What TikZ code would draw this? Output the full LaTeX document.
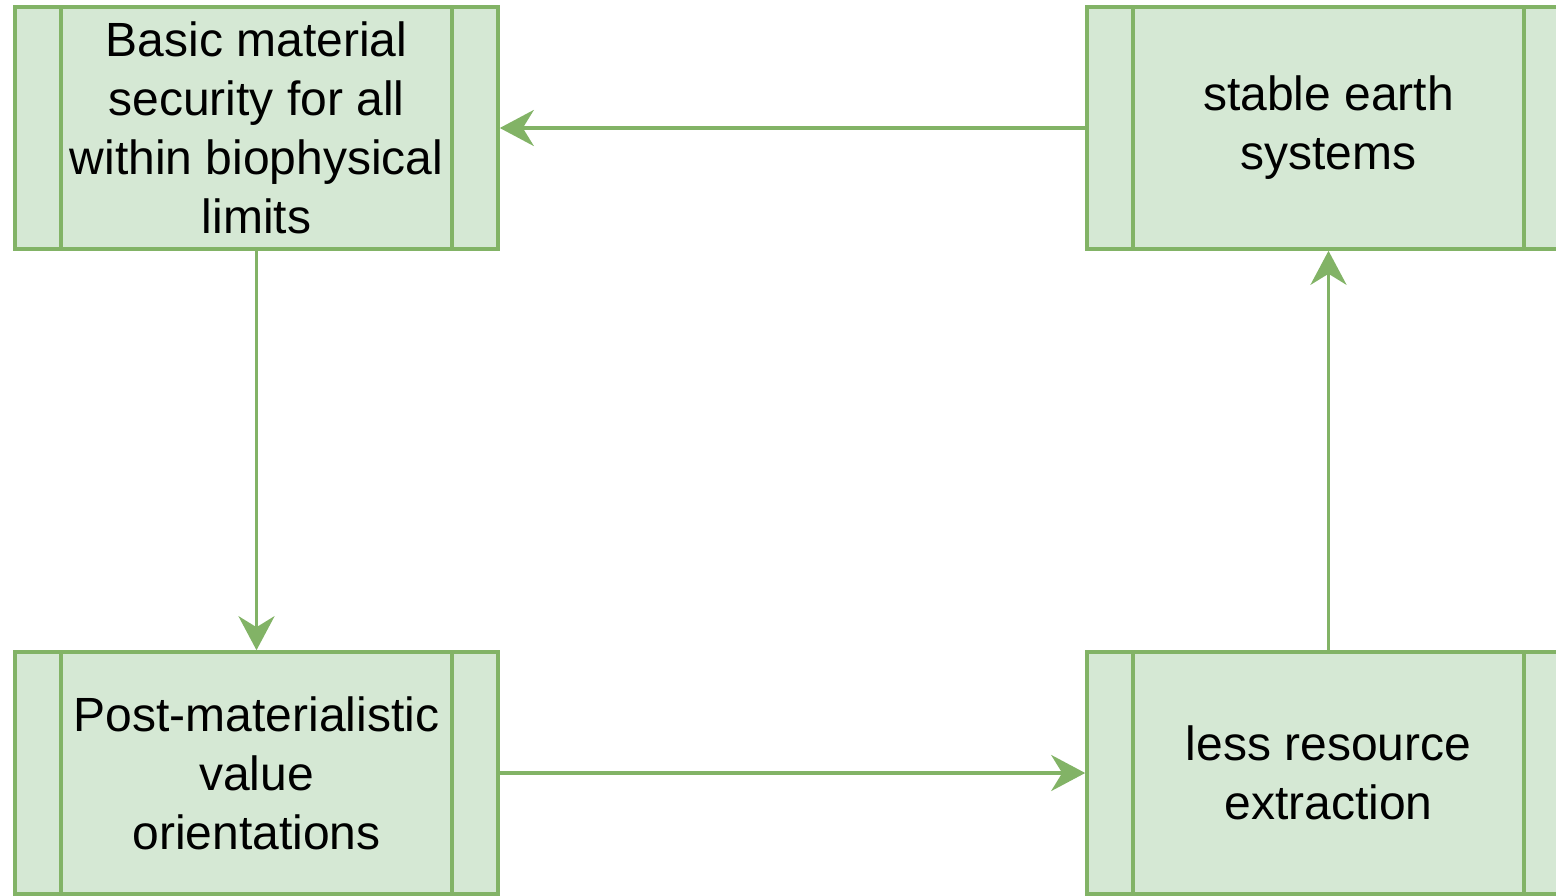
\documentclass[tikz,border=0pt]{standalone}
\usepackage{fontspec}
\setmainfont{Liberation Sans}
\usetikzlibrary{arrows.meta}
\definecolor{gfill}{HTML}{D5E8D4}
\definecolor{gline}{HTML}{82B366}
\begin{document}
\begin{tikzpicture}[x=1pt,y=-1pt,
  procbox/.style={draw=gline,fill=gfill,line width=3.6pt,rectangle,
    minimum width=483pt,minimum height=242pt,inner sep=0pt,align=center,
    font=\fontsize{48}{59}\selectfont},
  conn/.style={draw=gline,line width=3.6pt,
    -{Stealth[length=34pt,width=36pt,inset=11pt]}}]
\useasboundingbox (0,0) rectangle (1556,896);
\node[procbox] (a) at (256.5,128) {Basic material\\security for all\\within biophysical\\limits};
\node[procbox] (b) at (1328.5,128) {stable earth\\systems};
\node[procbox] (c) at (256.5,773) {Post-materialistic\\value\\orientations};
\node[procbox] (d) at (1328.5,773) {less resource\\extraction};
\foreach \n in {a,b,c,d}{
  \draw[gline,line width=3.6pt] ([xshift=48pt]\n.north west) -- ([xshift=48pt]\n.south west);
  \draw[gline,line width=3.6pt] ([xshift=-48pt]\n.north east) -- ([xshift=-48pt]\n.south east);
}
\draw[conn] (b.west) -- (a.east);
\draw[conn] (a.south) -- (c.north);
\draw[conn] (c.east) -- (d.west);
\draw[conn] (d.north) -- (b.south);
\end{tikzpicture}
\end{document}
